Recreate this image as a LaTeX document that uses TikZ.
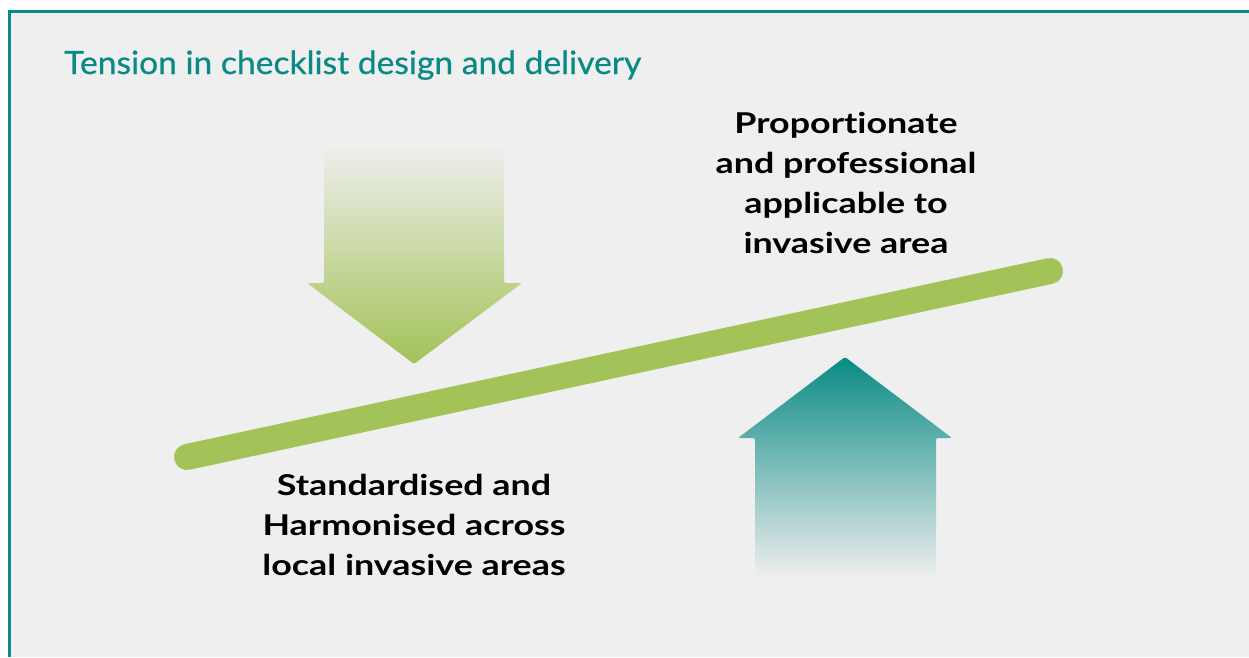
\documentclass[tikz,border=0pt]{standalone}
\usepackage{fontspec}
\setmainfont{Lato}
\newfontfamily\bodyfont[FakeStretch=1.25,RawFeature=-liga]{Lato}
\newfontfamily\titlefont[FakeStretch=1.05,FakeBold=0.6,RawFeature=-liga]{Lato}
\definecolor{bgc}{HTML}{EFEFEF}
\definecolor{teal1}{HTML}{0A8A84}
\definecolor{barg}{HTML}{A3C257}
\begin{document}
\begin{tikzpicture}[x=0.75pt,y=-0.75pt,
  bodytext/.style={font=\bodyfont\fontsize{21.5}{30}\selectfont\bfseries, align=center, inner sep=0pt, anchor=base, text=black},
  titletext/.style={font=\titlefont\fontsize{24}{28}\selectfont, text=teal1, inner sep=0pt, anchor=base west}]
\useasboundingbox (0,0) rectangle (1249,657);
\fill[white] (0,0) rectangle (1249,657);
\fill[bgc] (9.5,11.5) rectangle (1249,657);
\draw[teal1, line width=2.25pt] (9.5,657) -- (9.5,11.5) -- (1249,11.5);
\node[titletext] (title) at (64,74) {Tension in checklist design and delivery};
% down arrow
\shade[top color=bgc, bottom color=barg, rounded corners=1.5pt]
  (324,143) -- (504,143) -- (504,283) -- (522,283) -- (414,364) -- (307,283) -- (324,283) -- cycle;
% up arrow
\shade[top color=teal1, bottom color=bgc, rounded corners=1.5pt]
  (845,357) -- (952,438) -- (936,438) -- (936,578) -- (755,578) -- (755,438) -- (738,438) -- cycle;
% lever
\coordinate (lA) at (187,457);
\coordinate (lB) at (1050,271);
\draw[barg, line width=19.5pt, line cap=round] (lA) -- (lB);
\node[bodytext] (upper) at (846,253) {Proportionate\\and professional\\applicable to\\invasive area};
\node[bodytext] (lower) at (414,575) {Standardised and\\Harmonised across\\local invasive areas};
\end{tikzpicture}
\end{document}
